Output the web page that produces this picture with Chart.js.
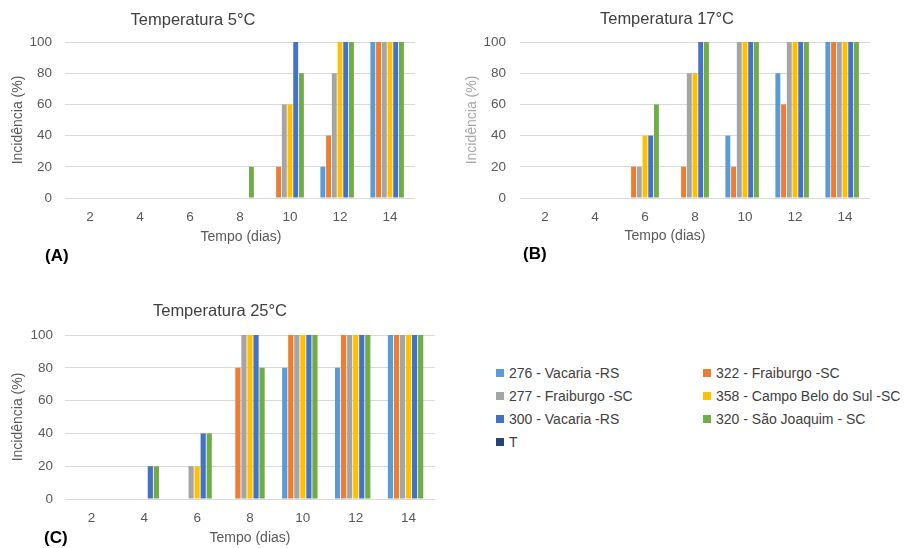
<!DOCTYPE html>
<html>
<head>
<meta charset="utf-8">
<script src="https://cdn.jsdelivr.net/npm/chart.js@4.4.1/dist/chart.umd.min.js"></script>
<style>
  body { margin: 0; background: #fff; font-family: 'Liberation Sans', Arial, sans-serif; }
  #wrap { position: relative; width: 905px; height: 548px; overflow: hidden; background: #fff; }
  canvas { position: absolute; }
  .txt { position: absolute; width: 260px; height: 24px; line-height: 24px; text-align: center; white-space: nowrap; }
  .titulo { font-size: 16.5px; color: #404040; }
  .eixo { font-size: 14px; color: #595959; }
  .painel { font-size: 17px; font-weight: bold; color: #000; text-align: left; }
  .leg { position: absolute; height: 23px; display: flex; align-items: center; font-size: 14px; color: #404040; white-space: nowrap; }
  .leg span.sq { display: inline-block; width: 8px; height: 8px; margin-right: 5px; }
</style>
</head>
<body>
<div id="wrap">
  <canvas id="chartA" width="430" height="232" style="left:0;top:0"></canvas>
  <canvas id="chartB" width="440" height="232" style="left:440px;top:0"></canvas>
  <canvas id="chartC" width="445" height="258" style="left:0;top:290px"></canvas>
</div>
<script>
// Categories and series
const dias = ['2', '4', '6', '8', '10', '12', '14'];
const isolados = ['276 - Vacaria -RS', '322 - Fraiburgo -SC', '277 - Fraiburgo -SC', '358 - Campo Belo do Sul -SC',
                  '300 - Vacaria -RS', '320 - São Joaquim - SC', 'T'];
const cores = ['#5B9BD5', '#ED7D31', '#A5A5A5', '#FFC000', '#4472C4', '#70AD47', '#264478'];

// Temperatura 5°C
const t5_276 = [0, 0, 0, 0, 0, 20, 100];
const t5_322 = [0, 0, 0, 0, 20, 40, 100];
const t5_277 = [0, 0, 0, 0, 60, 80, 100];
const t5_358 = [0, 0, 0, 0, 60, 100, 100];
const t5_300 = [0, 0, 0, 0, 100, 100, 100];
const t5_320 = [0, 0, 0, 20, 80, 100, 100];
const t5_T   = [0, 0, 0, 0, 0, 0, 0];

// Temperatura 17°C
const t17_276 = [0, 0, 0, 0, 40, 80, 100];
const t17_322 = [0, 0, 20, 20, 20, 60, 100];
const t17_277 = [0, 0, 20, 80, 100, 100, 100];
const t17_358 = [0, 0, 40, 80, 100, 100, 100];
const t17_300 = [0, 0, 40, 100, 100, 100, 100];
const t17_320 = [0, 0, 60, 100, 100, 100, 100];
const t17_T   = [0, 0, 0, 0, 0, 0, 0];

// Temperatura 25°C
const t25_276 = [0, 0, 0, 0, 80, 80, 100];
const t25_322 = [0, 0, 0, 80, 100, 100, 100];
const t25_277 = [0, 0, 20, 100, 100, 100, 100];
const t25_358 = [0, 0, 20, 100, 100, 100, 100];
const t25_300 = [0, 20, 40, 100, 100, 100, 100];
const t25_320 = [0, 20, 40, 80, 100, 100, 100];
const t25_T   = [0, 0, 0, 0, 0, 0, 0];

const yMin = 0, yMax = 100, yStep = 20;

Chart.defaults.font.family = "'Liberation Sans', Arial, sans-serif";

function makeChart(id, series, cfg) {
    return new Chart(document.getElementById(id), {
        type: 'bar',
        data: {
            labels: dias,
            datasets: series.map((d, i) => ({
                label: isolados[i],
                data: d,
                backgroundColor: cores[i],
                borderWidth: 0,
                barPercentage: 0.86,
                categoryPercentage: 0.8
            }))
        },
        options: {
            responsive: false,
            animation: false,
            layout: { padding: cfg.padding },
            plugins: { legend: { display: false }, tooltip: { enabled: false } },
            scales: {
                x: {
                    grid: { display: false },
                    border: { display: false },
                    ticks: { color: '#595959', font: { size: 13.5 }, padding: 3 },
                    afterFit: (s) => { s.height = cfg.xHeight; }
                },
                y: {
                    min: yMin,
                    max: yMax,
                    ticks: { stepSize: yStep, color: '#595959', font: { size: 13.5 }, padding: cfg.yPad },
                    grid: { color: '#D9D9D9', drawTicks: false },
                    border: { display: false },
                    title: {
                        display: true,
                        text: 'Incidência (%)',
                        color: cfg.yTitleColor,
                        font: { size: 14 },
                        padding: { top: cfg.yTitlePad, bottom: 0 }
                    },
                    afterFit: (s) => { s.width = cfg.yWidth; }
                }
            }
        }
    });
}

makeChart('chartA', [t5_276, t5_322, t5_277, t5_358, t5_300, t5_320, t5_T], {
    padding: { left: 8, right: 15, top: 42, bottom: 0 },
    yWidth: 57, xHeight: 34, yPad: 13, yTitlePad: 1.6, yTitleColor: '#595959'
});
makeChart('chartB', [t17_276, t17_322, t17_277, t17_358, t17_300, t17_320, t17_T], {
    padding: { left: 20, right: 10, top: 42, bottom: 0 },
    yWidth: 60, xHeight: 34, yPad: 14, yTitlePad: 3.6, yTitleColor: '#A6A6A6'
});
makeChart('chartC', [t25_276, t25_322, t25_277, t25_358, t25_300, t25_320, t25_T], {
    padding: { left: 8, right: 10, top: 45, bottom: 0 },
    yWidth: 57, xHeight: 49, yPad: 12, yTitlePad: 1.3, yTitleColor: '#595959'
});

// Titles, axis titles and panel letters
const wrap = document.getElementById('wrap');
function addText(text, cls, cx, cy, left) {
    const d = document.createElement('div');
    d.className = 'txt ' + cls;
    d.textContent = text;
    d.style.left = (left !== undefined ? left : cx - 130) + 'px';
    d.style.top = (cy - 12) + 'px';
    wrap.appendChild(d);
}
addText('Temperatura 5°C', 'titulo', 193, 19);
addText('Temperatura 17°C', 'titulo', 667, 18);
addText('Temperatura 25°C', 'titulo', 220, 310);
addText('Tempo (dias)', 'eixo', 241, 236);
addText('Tempo (dias)', 'eixo', 665, 235);
addText('Tempo (dias)', 'eixo', 250, 537);
addText('(A)', 'painel', 0, 256, 45);
addText('(B)', 'painel', 0, 254, 523);
addText('(C)', 'painel', 0, 538, 44);

// Legend (two columns, row by row)
isolados.forEach((nome, i) => {
    const d = document.createElement('div');
    d.className = 'leg';
    d.style.left = (i % 2 === 0 ? 496 : 703) + 'px';
    d.style.top = (361 + Math.floor(i / 2) * 23) + 'px';
    const sq = document.createElement('span');
    sq.className = 'sq';
    sq.style.background = cores[i];
    d.appendChild(sq);
    d.appendChild(document.createTextNode(nome));
    wrap.appendChild(d);
});
</script>
</body>
</html>
